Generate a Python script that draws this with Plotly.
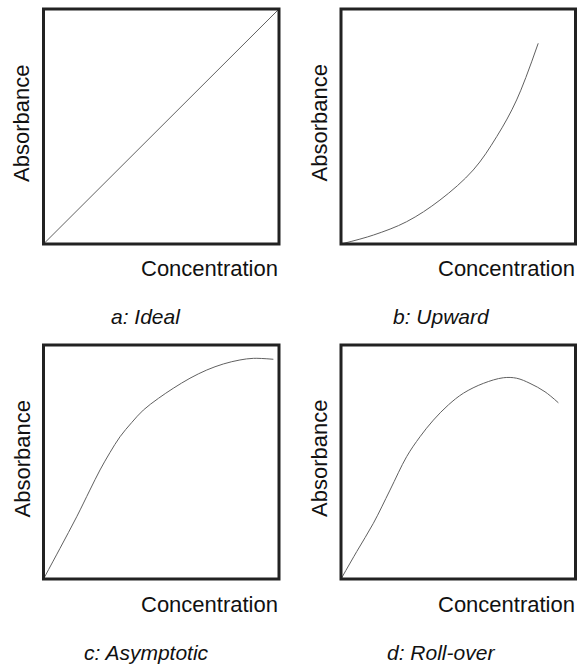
import plotly.graph_objects as go

W, H = 578, 664

# Data (normalized units)
ideal_x = [0.0, 1.0]
ideal_y = [0.0, 1.0]

upward_x = [0.0, 0.138, 0.280, 0.422, 0.564, 0.664, 0.749, 0.841]
upward_y = [0.0, 0.038, 0.095, 0.187, 0.315, 0.457, 0.613, 0.854]

asym_x = [0.0, 0.070, 0.141, 0.197, 0.240, 0.282, 0.325, 0.374, 0.424, 0.488, 0.551,
          0.622, 0.693, 0.764, 0.834, 0.891, 0.976]
asym_y = [0.0, 0.131, 0.266, 0.380, 0.466, 0.540, 0.608, 0.668, 0.722, 0.772, 0.815,
          0.858, 0.893, 0.919, 0.936, 0.943, 0.939]

roll_x = [0.0, 0.067, 0.138, 0.209, 0.280, 0.337, 0.394, 0.458, 0.522, 0.607, 0.692,
          0.749, 0.806, 0.870, 0.927]
roll_y = [0.0, 0.117, 0.238, 0.380, 0.523, 0.608, 0.679, 0.744, 0.794, 0.836, 0.860,
          0.858, 0.836, 0.800, 0.753]

captions = ["a: Ideal", "b: Upward", "c: Asymptotic", "d: Roll-over"]
xlabel = "Concentration"
ylabel = "Absorbance"

series = [(ideal_x, ideal_y), (upward_x, upward_y), (asym_x, asym_y), (roll_x, roll_y)]

# panel pixel boxes (left, right, top, bottom)
boxes = [(43.5, 279, 9, 244), (341, 575.5, 9, 244), (43.5, 279, 345, 579), (341, 575.5, 345, 579)]

def px(x):
    return x / W

def py(y):
    return 1 - y / H

fig = go.Figure()
FONT = "Liberation Sans, Arial, Helvetica, sans-serif"
annotations = []
shapes = []
for i, ((xs, ys), (l, r, t, b)) in enumerate(zip(series, boxes)):
    n = "" if i == 0 else str(i + 1)
    fig.add_trace(go.Scatter(x=xs, y=ys, mode="lines",
                             line=dict(color="#606060", width=1, shape="spline", smoothing=1.0),
                             xaxis="x" + n, yaxis="y" + n, showlegend=False, hoverinfo="skip"))
    fig.layout["xaxis" + n] = dict(domain=[px(l), px(r)], range=[0, 1], visible=False, fixedrange=True,
                                   anchor="y" + n)
    fig.layout["yaxis" + n] = dict(domain=[py(b), py(t)], range=[0, 1], visible=False, fixedrange=True,
                                   anchor="x" + n)
    shapes.append(dict(type="rect", xref="paper", yref="paper", x0=px(l), x1=px(r), y0=py(b), y1=py(t),
                       line=dict(color="#222222", width=3), layer="above"))
    annotations.append(dict(text=xlabel, x=px(r + 1), y=py(b + 25), xref="paper", yref="paper",
                            xanchor="right", yanchor="middle", showarrow=False,
                            font=dict(family=FONT, size=22, color="#111111")))
    annotations.append(dict(text=ylabel, x=px(l - 22), y=py((t + b) / 2 - 3), xref="paper", yref="paper",
                            xanchor="center", yanchor="middle", textangle=-90, showarrow=False,
                            font=dict(family=FONT, size=22, color="#111111")))
    annotations.append(dict(text="<i>" + captions[i] + "</i>",
                            x=px((l + r) / 2 - 15 if i % 2 == 0 else (l + r) / 2 - 17),
                            y=py(b + 73), xref="paper", yref="paper",
                            xanchor="center", yanchor="middle", showarrow=False,
                            font=dict(family=FONT, size=21, color="#111111")))

fig.update_layout(width=W, height=H, margin=dict(l=0, r=0, t=0, b=0),
                  paper_bgcolor="white", plot_bgcolor="white",
                  shapes=shapes, annotations=annotations)
fig.write_html("out.html", config={"displayModeBar": False},
               post_script="document.body.style.margin='0';document.body.style.overflow='hidden';")
